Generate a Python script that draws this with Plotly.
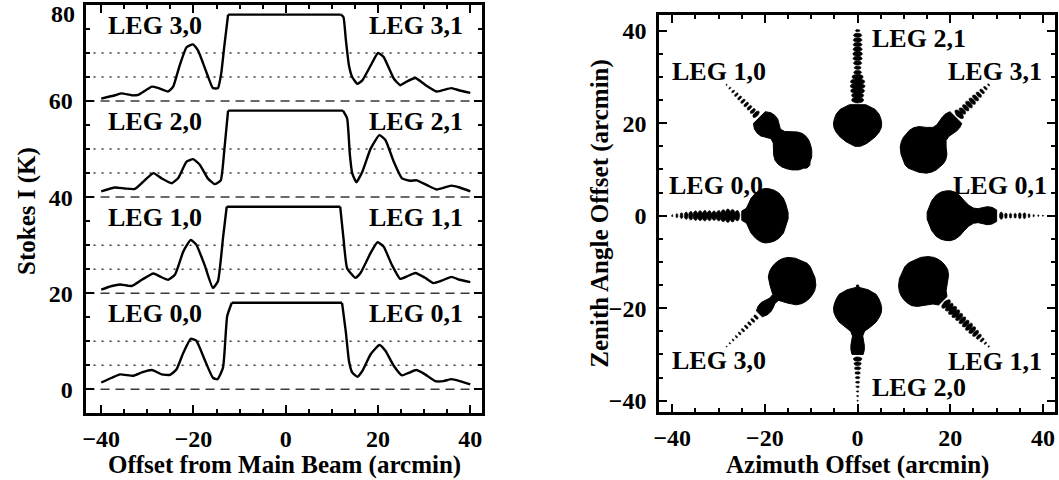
import numpy as np
import plotly.graph_objects as go

W, H = 1059, 480
FONT = "Liberation Serif"

# ---------------- Left panel: Stokes I profiles ----------------
LEG_BASELINES = [0, 20, 40, 60]
LEG_LABEL_LEFT = ["LEG 0,0", "LEG 1,0", "LEG 2,0", "LEG 3,0"]
LEG_LABEL_RIGHT = ["LEG 0,1", "LEG 1,1", "LEG 2,1", "LEG 3,1"]

LEG0_X = [-40, -37.7, -35.9, -33, -31.2, -29, -26.9, -25.1, -23.7, -22.2,
          -20.6, -19.4, -17.6, -15.8, -14.8, -13.6, -12.7, -11.7,
          12.2, 13, 13.7, 14.4, 15.5, 16.6, 18.4, 20.3, 21.6, 23.4,
          25.2, 26.6, 28.3, 30.2, 32.4, 34.2, 35.9, 37.7, 40]
LEG0_I = [1.4, 2.4, 3.1, 2.8, 3.5, 4.0, 3.1, 3.0, 4.1, 7.6,
          10.5, 10.1, 6.2, 2.4, 2.1, 4.5, 15.2, 18,
          18, 12.1, 5.9, 3.5, 2.6, 3.8, 7.3, 9.2, 8.0, 4.9,
          2.9, 3.4, 4.0, 3.1, 1.7, 1.7, 2.1, 1.7, 1.0]

LEG1_X = [-40, -37.7, -35.9, -33.4, -31.2, -28.7, -27.3, -25.5, -24, -22.2,
          -20.6, -19.4, -17.6, -15.8, -14.7, -13.6, -12.8,
          11.8, 12.5, 13.3, 15.1, 16.2, 18.4, 19.9, 21.2, 23,
          24.8, 26.3, 28.1, 30.2, 32, 33.8, 35.9, 37.7, 40]
LEG1_I = [0.75, 1.5, 1.8, 1.5, 2.8, 4.1, 3.5, 2.8, 3.9, 8.7,
          11.1, 10.1, 5.9, 1.1, 2.5, 11.5, 18,
          18, 11.5, 5.2, 3.2, 4.2, 8.4, 10.6, 9.7, 5.9,
          3.0, 3.5, 4.2, 3.2, 2.1, 2.6, 3.4, 2.8, 2.3]

LEG2_X = [-40, -37, -34.9, -32.7, -30.9, -28.7, -26.9, -24.7, -23.3, -21.5,
          -20.1, -18.6, -16.9, -15.4, -14.1, -13.3, -12.5,
          12.4, 13.3, 13.9, 14.4, 15.3, 16.6, 18.4, 20.3, 21.6, 23.4,
          25.2, 27, 28.4, 30.6, 32.7, 35.9, 37.7, 40]
LEG2_I = [1.2, 2.0, 1.8, 1.7, 3.2, 5.0, 3.9, 2.9, 4.0, 7.4,
          7.9, 6.7, 3.9, 2.7, 3.5, 10, 18,
          18, 16.4, 8.8, 5.0, 3.1, 5.3, 10.1, 12.9, 11.9, 7.4,
          3.9, 3.4, 3.5, 2.5, 1.6, 2.4, 2.0, 1.2]

LEG3_X = [-40, -37, -35.6, -33.4, -32, -29, -27.6, -25.5, -24.4, -23,
          -21.5, -20.1, -19, -17.2, -15.8, -14.7, -14, -13.3, -12.5,
          11.9, 12.5, 13, 13.7, 14.4, 15.5, 16.6, 18.4, 20, 21.2,
          23.4, 24.8, 26.3, 28.1, 30.2, 32.7, 35.9, 37.7, 40]
LEG3_I = [0.5, 1.2, 1.6, 1.2, 1.3, 3.0, 2.7, 2.0, 3.0, 7.4,
          11.2, 11.8, 10.5, 6.0, 2.7, 2.7, 5.7, 11.6, 18,
          18, 17.5, 13, 7.4, 5.0, 3.6, 4.3, 7.4, 10, 9.2,
          4.7, 3.3, 4.1, 4.8, 3.4, 2.0, 2.7, 2.2, 1.7]

LEG_X = [LEG0_X, LEG1_X, LEG2_X, LEG3_X]
LEG_I = [LEG0_I, LEG1_I, LEG2_I, LEG3_I]
CLIP_LEVEL = 18                  # main beam is clipped at this height
DOTTED_LEVELS = [5, 10]          # K above each baseline
LEG_LABEL_X = [-28.4, 28.2]
LEG_LABEL_DY = 15.7

LEFT_X_TICKS = [-40, -20, 0, 20, 40]
LEFT_Y_TICKS = [0, 20, 40, 60, 80]
LEFT_X_RANGE = [-43.4, 42.6]
LEFT_Y_RANGE = [-5, 80]

# ---------------- Right panel: beam footprints ----------------
BEAM_NAMES = ["LEG 0,0", "LEG 0,1", "LEG 1,0", "LEG 1,1",
              "LEG 2,0", "LEG 2,1", "LEG 3,0", "LEG 3,1"]
BEAM_ANGLE_DEG = [180, 0, 135, 315, 270, 90, 225, 45]
BEAM_TAIL_START = [25, 30, 30, 26, 30, 24, 30, 30]   # radius where the dotted tail begins
BEAM_RADIUS = [15, 15.5, 16, 17, 18, 19, 20, 21, 22, 23, 24, 25, 26, 27,
               28, 29, 30, 31, 32, 33, 34, 35, 36, 37, 38, 39, 40]
BEAM_WIDTH = {
    "LEG 0,0": [1.4, 5, 7.5, 9.8, 11, 11.6, 11.8, 11.2, 9.8, 7.5, 3.2, 2.0, 2.3, 2.7,
                2.9, 2.6, 2.3, 2.1, 2.2, 2.3, 2.2, 2.1, 1.9, 1.6, 1.3, 0.9, 0.5],
    "LEG 0,1": [1.5, 4, 6.5, 9, 10.2, 10.7, 10.8, 10.2, 8.8, 6.5, 4.5, 3.3, 3.0, 3.5,
                3.9, 3.6, 2.5, 1.6, 1.2, 1.1, 1.1, 1.3, 1.3, 0.9, 0.6, 0.4, 0.3],
    "LEG 1,0": [0.8, 2, 4, 6, 7.3, 8.2, 8.5, 8.3, 7.2, 5.5, 3.5, 2.9, 4.2, 5.2,
                5.4, 5.0, 3.6, 1.8, 1.4, 1.3, 1.3, 1.2, 1.1, 1.0, 0.8, 0.6, 0.3],
    "LEG 1,1": [1.2, 3.5, 6.5, 9, 10.5, 11.3, 11.6, 11.5, 11, 9.5, 7, 4, 2.6, 2.4,
                2.2, 2.3, 2.2, 2.0, 1.9, 1.9, 2.0, 1.9, 1.7, 1.4, 1.1, 0.7, 0.4],
    "LEG 2,0": [0.4, 0.6, 4.5, 8, 9.2, 10, 10.4, 10.2, 9.3, 8, 5.7, 3.0, 2.2, 2.6,
                2.9, 2.9, 2.4, 1.9, 1.6, 1.4, 1.2, 1.0, 0.9, 0.8, 0.6, 0.5, 0.3],
    "LEG 2,1": [1.2, 3.5, 5, 7.5, 9.2, 10.2, 10.4, 10, 9.2, 7.5, 3.5, 2.6, 2.6, 3.0,
                3.2, 3.1, 2.4, 1.7, 1.5, 1.8, 2.0, 2.1, 2.0, 1.9, 1.9, 1.8, 1.0],
    "LEG 3,0": [1.0, 3.5, 6, 8.5, 9.8, 10.4, 10.6, 10.4, 9.8, 8.5, 5.5, 1.8, 1.6, 2.4,
                2.9, 2.7, 1.8, 1.2, 1.1, 1.0, 1.0, 0.9, 0.8, 0.7, 0.6, 0.4, 0.2],
    "LEG 3,1": [1.0, 3, 5.5, 8, 9.3, 10, 10.3, 10.3, 9.8, 8.5, 6, 4, 3.6, 4.0,
                4.3, 4.3, 3.6, 2.4, 1.8, 1.8, 1.9, 1.8, 1.7, 1.5, 1.3, 1.0, 0.6],
}
BEAM_LABEL_X = [-30.6, 30.8, -29.9, 29.7, 13.2, 13.2, -29.9, 29.7]
BEAM_LABEL_Y = [6.5, 6.5, 31.2, -31.5, -37.1, 38.3, -31.4, 31.2]

RIGHT_TICKS = [-40, -20, 0, 20, 40]
RIGHT_X_RANGE = [-42.8, 42.6]
RIGHT_Y_RANGE = [-42.5, 43.4]

# ---------------- layout geometry (pixels) ----------------
L_DOM_X = [80, 479]
L_DOM_Y = [5, 415]
R_DOM_X = [657, 1055]
R_DOM_Y = [15, 414]


def tick_label(v):
    s = str(v) if v >= 0 else "\u2212" + str(-v)
    return "<b>" + s + "</b>"


fig = go.Figure()

# profiles: smooth sidelobes, straight clipped top
for base, xs, vals in zip(LEG_BASELINES, LEG_X, LEG_I):
    xs = np.array(xs, dtype=float)
    ys = np.array(vals, dtype=float) + base
    top = np.where(np.array(vals) >= CLIP_LEVEL)[0]
    i0, i1 = top[0], top[-1]
    for sl, shape in [(slice(0, i0 + 1), "spline"), (slice(i0, i1 + 1), "linear"),
                      (slice(i1, None), "spline")]:
        fig.add_trace(go.Scatter(x=xs[sl], y=ys[sl], mode="lines",
                                 line=dict(color="black", width=2.4, shape=shape,
                                           smoothing=0.45),
                                 xaxis="x", yaxis="y", showlegend=False,
                                 hoverinfo="skip"))

shapes = []
for base in LEG_BASELINES:
    shapes.append(dict(type="line", xref="x domain", yref="y", x0=0, x1=1,
                       y0=base, y1=base, layer="below",
                       line=dict(color="#3a3a3a", width=1.5, dash="9px,6px")))
    for lv in DOTTED_LEVELS:
        shapes.append(dict(type="line", xref="x domain", yref="y", x0=0, x1=1,
                           y0=base + lv, y1=base + lv, layer="below",
                           line=dict(color="#3a3a3a", width=1.5, dash="2px,6px")))

label_font = dict(family=FONT, size=26, color="black", weight="bold")
annotations = []
for base, nl, nr in zip(LEG_BASELINES, LEG_LABEL_LEFT, LEG_LABEL_RIGHT):
    for name, lx in zip([nl, nr], LEG_LABEL_X):
        annotations.append(dict(x=lx, y=base + LEG_LABEL_DY, xref="x", yref="y",
                                text=name, showarrow=False, font=label_font,
                                xanchor="center", yanchor="middle"))

# beam footprints: solid body + dotted tail of small ellipses
r_all = np.array(BEAM_RADIUS, dtype=float)
phi = np.linspace(0, 2 * np.pi, 17)
for name, ang, r_tail in zip(BEAM_NAMES, BEAM_ANGLE_DEG, BEAM_TAIL_START):
    th = np.deg2rad(ang)
    u = np.array([np.cos(th), np.sin(th)])
    v = np.array([-np.sin(th), np.cos(th)])
    d = np.array(BEAM_WIDTH[name], dtype=float)
    body = r_all <= r_tail
    rb, hb = r_all[body], d[body] / 2
    px = np.concatenate([rb * u[0] + hb * v[0], (rb * u[0] - hb * v[0])[::-1]])
    py = np.concatenate([rb * u[1] + hb * v[1], (rb * u[1] - hb * v[1])[::-1]])
    fig.add_trace(go.Scatter(x=np.append(px, px[0]), y=np.append(py, py[0]),
                             mode="lines", fill="toself", fillcolor="black",
                             line=dict(color="black", width=1),
                             xaxis="x2", yaxis="y2", showlegend=False,
                             hoverinfo="skip"))
    tx, ty = [], []
    for ri, di in zip(r_all[~body], d[~body]):
        a = di / 2
        b = np.clip(0.5 * di, 0.3, 1.3) / 2
        ex = ri * u[0] + a * np.cos(phi) * v[0] + b * np.sin(phi) * u[0]
        ey = ri * u[1] + a * np.cos(phi) * v[1] + b * np.sin(phi) * u[1]
        tx += list(ex) + [None]
        ty += list(ey) + [None]
    fig.add_trace(go.Scatter(x=tx, y=ty, mode="lines", fill="toself",
                             fillcolor="black", line=dict(color="black", width=0.6),
                             xaxis="x2", yaxis="y2", showlegend=False,
                             hoverinfo="skip"))

for name, lx, ly in zip(BEAM_NAMES, BEAM_LABEL_X, BEAM_LABEL_Y):
    annotations.append(dict(x=lx, y=ly, xref="x2", yref="y2", text=name,
                            showarrow=False, font=label_font,
                            xanchor="center", yanchor="middle"))

# axis titles
title_font = dict(family=FONT, size=25, color="black", weight="bold")
annotations += [
    dict(x=280 / W, y=1 - 467 / H, xref="paper", yref="paper",
         text="Offset from Main Beam (arcmin)", showarrow=False, font=title_font,
         xanchor="center", yanchor="middle", borderpad=0),
    dict(x=21 / W, y=1 - 212 / H, xref="paper", yref="paper", textangle=-90,
         text="Stokes I (K)", showarrow=False, font=title_font,
         xanchor="center", yanchor="middle"),
    dict(x=856 / W, y=1 - 467 / H, xref="paper", yref="paper",
         text="Azimuth Offset (arcmin)", showarrow=False, font=title_font,
         xanchor="center", yanchor="middle", borderpad=0),
    dict(x=597 / W, y=1 - 214 / H, xref="paper", yref="paper", textangle=-90,
         text="Zenith Angle Offset (arcmin)", showarrow=False, font=title_font,
         xanchor="center", yanchor="middle"),
]

tickfont = dict(family=FONT, size=24, color="black")
# top label of the left y axis sits just inside the frame
annotations.append(dict(x=0, y=LEFT_Y_TICKS[-1], xref="x domain", yref="y",
                        text=tick_label(LEFT_Y_TICKS[-1]), showarrow=False,
                        font=tickfont, xanchor="right", yanchor="middle",
                        xshift=-9, yshift=-9))

axis_common = dict(showgrid=False, zeroline=False, showline=True, linecolor="black",
                   linewidth=3, mirror="allticks", ticks="inside", ticklen=8,
                   tickwidth=2, tickcolor="black", tickfont=tickfont,
                   tickmode="array",
                   minor=dict(dtick=5, ticks="inside", ticklen=4, tickwidth=2,
                              tickcolor="black"))


def dom_x(pxr):
    return [pxr[0] / W, pxr[1] / W]


def dom_y(pyr):
    return [1 - pyr[1] / H, 1 - pyr[0] / H]


fig.update_layout(
    width=W, height=H, margin=dict(l=0, r=0, t=0, b=0),
    paper_bgcolor="white", plot_bgcolor="white",
    xaxis=dict(domain=dom_x(L_DOM_X), range=LEFT_X_RANGE, tickvals=LEFT_X_TICKS,
               ticktext=[tick_label(t) for t in LEFT_X_TICKS],
               ticklabelstandoff=2, anchor="y", **axis_common),
    yaxis=dict(domain=dom_y(L_DOM_Y), range=LEFT_Y_RANGE, tickvals=LEFT_Y_TICKS,
               ticktext=[tick_label(t) if t != LEFT_Y_TICKS[-1] else ""
                         for t in LEFT_Y_TICKS],
               ticklabelstandoff=5, anchor="x", **axis_common),
    xaxis2=dict(domain=dom_x(R_DOM_X), range=RIGHT_X_RANGE, tickvals=RIGHT_TICKS,
                ticktext=[tick_label(t) for t in RIGHT_TICKS],
                ticklabelstandoff=2, anchor="y2", **axis_common),
    yaxis2=dict(domain=dom_y(R_DOM_Y), range=RIGHT_Y_RANGE, tickvals=RIGHT_TICKS,
                ticktext=[tick_label(t) for t in RIGHT_TICKS],
                ticklabelstandoff=5, anchor="x2", **axis_common),
    shapes=shapes, annotations=annotations,
)

fig.write_html("out.html")
